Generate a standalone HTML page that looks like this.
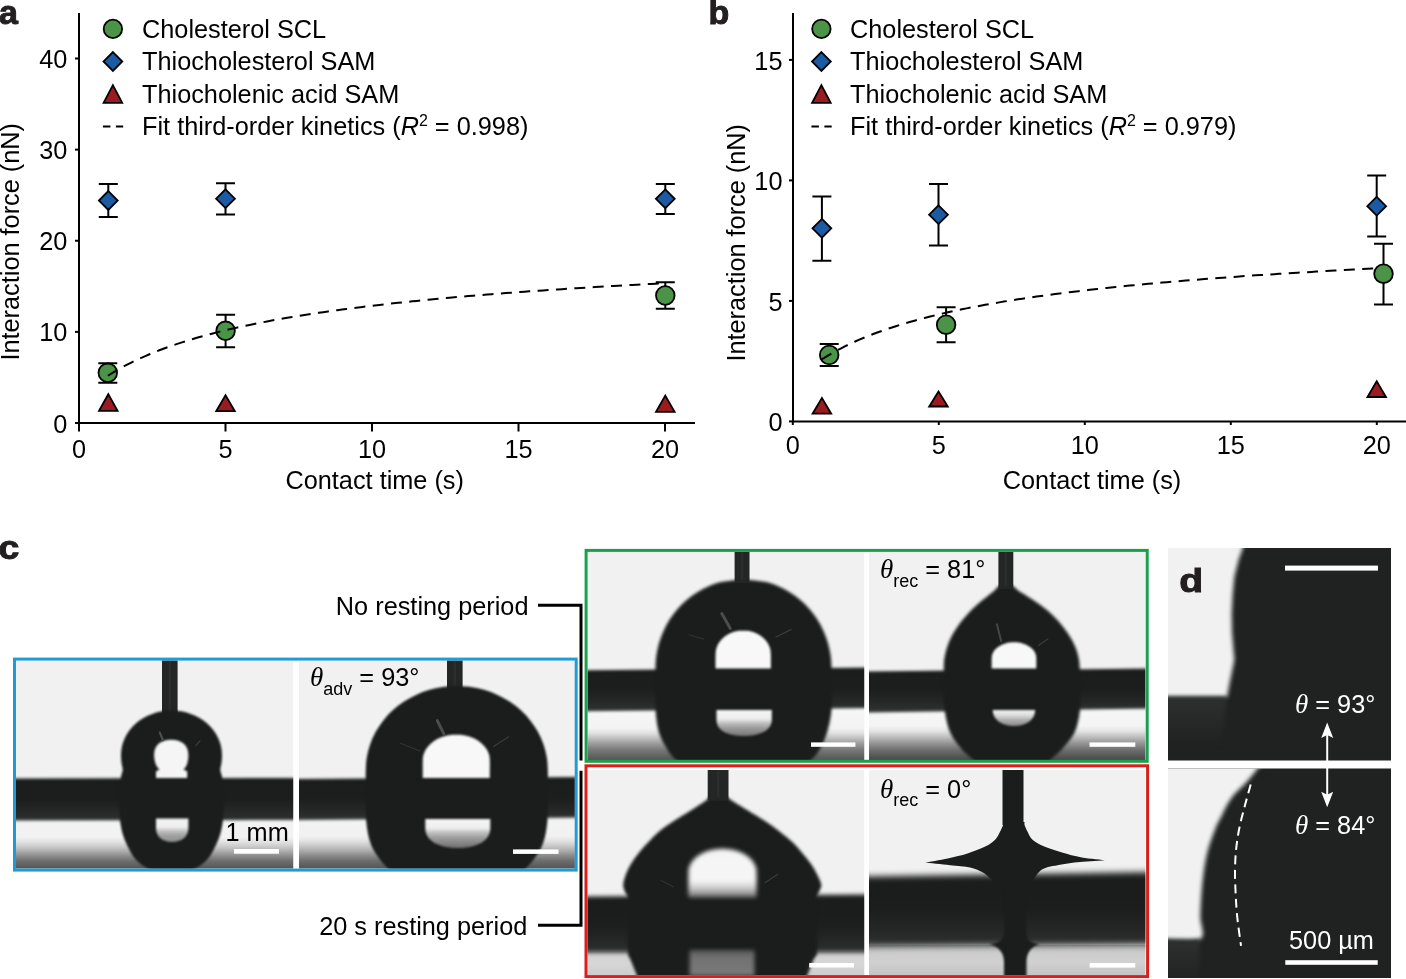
<!DOCTYPE html>
<html><head><meta charset="utf-8"><title>Figure</title>
<style>html,body{margin:0;padding:0;background:#fff;width:1406px;height:979px;overflow:hidden}
svg{display:block;will-change:transform}</style></head><body>
<svg width="1406" height="979" viewBox="0 0 1406 979">

<text x="-1.0" y="24.4" font-size="34" font-weight="bold" fill="#231f20" stroke="#231f20" stroke-width="1" font-family="Liberation Sans, sans-serif">a</text>
<path d="M79,13 V424" stroke="#000" stroke-width="2" fill="none"/>
<path d="M78,423 H695" stroke="#000" stroke-width="2" fill="none"/>
<path d="M75,423.00 H79" stroke="#000" stroke-width="2"/>
<text x="67.4" y="432.60" font-size="25.3" text-anchor="end" font-family="Liberation Sans, sans-serif">0</text>
<path d="M75,331.88 H79" stroke="#000" stroke-width="2"/>
<text x="67.4" y="341.48" font-size="25.3" text-anchor="end" font-family="Liberation Sans, sans-serif">10</text>
<path d="M75,240.75 H79" stroke="#000" stroke-width="2"/>
<text x="67.4" y="250.35" font-size="25.3" text-anchor="end" font-family="Liberation Sans, sans-serif">20</text>
<path d="M75,149.62 H79" stroke="#000" stroke-width="2"/>
<text x="67.4" y="159.22" font-size="25.3" text-anchor="end" font-family="Liberation Sans, sans-serif">30</text>
<path d="M75,58.50 H79" stroke="#000" stroke-width="2"/>
<text x="67.4" y="68.10" font-size="25.3" text-anchor="end" font-family="Liberation Sans, sans-serif">40</text>
<path d="M79.00,423 V431.5" stroke="#000" stroke-width="2"/>
<text x="79.00" y="457.8" font-size="25.3" text-anchor="middle" font-family="Liberation Sans, sans-serif">0</text>
<path d="M225.50,423 V431.5" stroke="#000" stroke-width="2"/>
<text x="225.50" y="457.8" font-size="25.3" text-anchor="middle" font-family="Liberation Sans, sans-serif">5</text>
<path d="M372.00,423 V431.5" stroke="#000" stroke-width="2"/>
<text x="372.00" y="457.8" font-size="25.3" text-anchor="middle" font-family="Liberation Sans, sans-serif">10</text>
<path d="M518.50,423 V431.5" stroke="#000" stroke-width="2"/>
<text x="518.50" y="457.8" font-size="25.3" text-anchor="middle" font-family="Liberation Sans, sans-serif">15</text>
<path d="M665.00,423 V431.5" stroke="#000" stroke-width="2"/>
<text x="665.00" y="457.8" font-size="25.3" text-anchor="middle" font-family="Liberation Sans, sans-serif">20</text>
<text x="374.7" y="488.5" font-size="25.3" text-anchor="middle" font-family="Liberation Sans, sans-serif">Contact time (s)</text>
<text transform="translate(18.5,241.8) rotate(-90)" font-size="25.3" text-anchor="middle" font-family="Liberation Sans, sans-serif">Interaction force (nN)</text>
<path d="M108.30,184.00 V217.00 M98.80,184.00 H117.80 M98.80,217.00 H117.80" stroke="#000" stroke-width="2" fill="none"/>
<path d="M108.30,191.10 L117.70,200.50 L108.30,209.90 L98.90,200.50 Z" fill="#1a5ba3" stroke="#000" stroke-width="1.8" stroke-linejoin="miter"/>
<path d="M225.50,183.30 V214.40 M216.00,183.30 H235.00 M216.00,214.40 H235.00" stroke="#000" stroke-width="2" fill="none"/>
<path d="M225.50,189.30 L234.90,198.70 L225.50,208.10 L216.10,198.70 Z" fill="#1a5ba3" stroke="#000" stroke-width="1.8" stroke-linejoin="miter"/>
<path d="M665.30,184.10 V214.10 M655.80,184.10 H674.80 M655.80,214.10 H674.80" stroke="#000" stroke-width="2" fill="none"/>
<path d="M665.30,189.40 L674.70,198.80 L665.30,208.20 L655.90,198.80 Z" fill="#1a5ba3" stroke="#000" stroke-width="1.8" stroke-linejoin="miter"/>
<path d="M107.80,363.20 V382.70 M98.30,363.20 H117.30 M98.30,382.70 H117.30" stroke="#000" stroke-width="2" fill="none"/>
<circle cx="107.80" cy="372.80" r="9.3" fill="#4b9447" stroke="#000" stroke-width="1.8"/>
<path d="M225.60,314.80 V347.20 M216.10,314.80 H235.10 M216.10,347.20 H235.10" stroke="#000" stroke-width="2" fill="none"/>
<circle cx="225.60" cy="330.80" r="9.3" fill="#4b9447" stroke="#000" stroke-width="1.8"/>
<path d="M665.30,282.20 V308.80 M655.80,282.20 H674.80 M655.80,308.80 H674.80" stroke="#000" stroke-width="2" fill="none"/>
<circle cx="665.30" cy="295.50" r="9.3" fill="#4b9447" stroke="#000" stroke-width="1.8"/>
<path d="M108.30,394.20 L117.60,410.80 L99.00,410.80 Z" fill="#9a1c21" stroke="#000" stroke-width="1.8" stroke-linejoin="miter"/>
<path d="M225.50,395.20 L234.80,411.10 L216.20,411.10 Z" fill="#9a1c21" stroke="#000" stroke-width="1.8" stroke-linejoin="miter"/>
<path d="M665.30,395.60 L674.60,411.90 L656.00,411.90 Z" fill="#9a1c21" stroke="#000" stroke-width="1.8" stroke-linejoin="miter"/>
<path d="M107.86,375.75 L112.54,372.84 L117.22,370.07 L121.91,367.44 L126.59,364.94 L131.27,362.56 L135.95,360.29 L140.63,358.11 L145.32,356.04 L150.00,354.04 L154.68,352.13 L159.36,350.30 L164.04,348.53 L168.72,346.83 L173.41,345.20 L178.09,343.62 L182.77,342.10 L187.45,340.63 L192.13,339.21 L196.82,337.83 L201.50,336.50 L206.18,335.21 L210.86,333.96 L215.54,332.75 L220.22,331.57 L224.91,330.43 L229.59,329.32 L234.27,328.24 L238.95,327.19 L243.63,326.17 L248.32,325.18 L253.00,324.21 L257.68,323.27 L262.36,322.35 L267.04,321.45 L271.73,320.57 L276.41,319.72 L281.09,318.88 L285.77,318.07 L290.45,317.27 L295.13,316.49 L299.82,315.73 L304.50,314.99 L309.18,314.26 L313.86,313.54 L318.54,312.84 L323.23,312.16 L327.91,311.49 L332.59,310.83 L337.27,310.19 L341.95,309.56 L346.63,308.94 L351.32,308.33 L356.00,307.73 L360.68,307.15 L365.36,306.57 L370.04,306.01 L374.73,305.45 L379.41,304.91 L384.09,304.38 L388.77,303.85 L393.45,303.33 L398.13,302.83 L402.82,302.33 L407.50,301.84 L412.18,301.35 L416.86,300.88 L421.54,300.41 L426.23,299.95 L430.91,299.50 L435.59,299.05 L440.27,298.61 L444.95,298.18 L449.64,297.75 L454.32,297.33 L459.00,296.92 L463.68,296.51 L468.36,296.11 L473.04,295.71 L477.73,295.32 L482.41,294.94 L487.09,294.56 L491.77,294.19 L496.45,293.82 L501.14,293.45 L505.82,293.09 L510.50,292.74 L515.18,292.39 L519.86,292.04 L524.54,291.70 L529.23,291.37 L533.91,291.03 L538.59,290.71 L543.27,290.38 L547.95,290.06 L552.64,289.75 L557.32,289.44 L562.00,289.13 L566.68,288.82 L571.36,288.52 L576.04,288.22 L580.73,287.93 L585.41,287.64 L590.09,287.35 L594.77,287.07 L599.45,286.79 L604.14,286.51 L608.82,286.24 L613.50,285.97 L618.18,285.70 L622.86,285.43 L627.55,285.17 L632.23,284.91 L636.91,284.65 L641.59,284.40 L646.27,284.15 L650.95,283.90 L655.64,283.65 L660.32,283.41 L665.00,283.17" stroke="#000" stroke-width="2" fill="none" stroke-dasharray="11,7.4"/>
<circle cx="112.90" cy="28.90" r="9.2" fill="#4b9447" stroke="#000" stroke-width="1.8"/>
<path d="M112.90,52.10 L122.30,61.50 L112.90,70.90 L103.50,61.50 Z" fill="#1a5ba3" stroke="#000" stroke-width="1.8" stroke-linejoin="miter"/>
<path d="M112.90,85.20 L122.20,102.80 L103.60,102.80 Z" fill="#9a1c21" stroke="#000" stroke-width="1.8" stroke-linejoin="miter"/>
<path d="M102.9,126.6 H110.4 M115.9,126.6 H123.2" stroke="#000" stroke-width="2"/>
<text x="142" y="37.80" font-size="25.3" font-family="Liberation Sans, sans-serif">Cholesterol SCL</text>
<text x="142" y="70.25" font-size="25.3" font-family="Liberation Sans, sans-serif">Thiocholesterol SAM</text>
<text x="142" y="102.70" font-size="25.3" font-family="Liberation Sans, sans-serif">Thiocholenic acid SAM</text>
<text x="142" y="135.1" font-size="25.3" font-family="Liberation Sans, sans-serif">Fit third-order kinetics (<tspan font-style="italic">R</tspan><tspan font-size="16" dy="-9">2</tspan><tspan dy="9"> = 0.998)</tspan></text>
<text x="708.6" y="24.1" font-size="34" font-weight="bold" fill="#231f20" stroke="#231f20" stroke-width="1" font-family="Liberation Sans, sans-serif">b</text>
<path d="M793,13 V422.4" stroke="#000" stroke-width="2" fill="none"/>
<path d="M792,421.4 H1406" stroke="#000" stroke-width="2" fill="none"/>
<path d="M789,421.40 H793" stroke="#000" stroke-width="2"/>
<text x="782.5" y="431.00" font-size="25.3" text-anchor="end" font-family="Liberation Sans, sans-serif">0</text>
<path d="M789,300.90 H793" stroke="#000" stroke-width="2"/>
<text x="782.5" y="310.50" font-size="25.3" text-anchor="end" font-family="Liberation Sans, sans-serif">5</text>
<path d="M789,180.40 H793" stroke="#000" stroke-width="2"/>
<text x="782.5" y="190.00" font-size="25.3" text-anchor="end" font-family="Liberation Sans, sans-serif">10</text>
<path d="M789,59.90 H793" stroke="#000" stroke-width="2"/>
<text x="782.5" y="69.50" font-size="25.3" text-anchor="end" font-family="Liberation Sans, sans-serif">15</text>
<path d="M792.80,421.4 V425" stroke="#000" stroke-width="2"/>
<text x="792.80" y="453.8" font-size="25.3" text-anchor="middle" font-family="Liberation Sans, sans-serif">0</text>
<path d="M938.80,421.4 V425" stroke="#000" stroke-width="2"/>
<text x="938.80" y="453.8" font-size="25.3" text-anchor="middle" font-family="Liberation Sans, sans-serif">5</text>
<path d="M1084.80,421.4 V425" stroke="#000" stroke-width="2"/>
<text x="1084.80" y="453.8" font-size="25.3" text-anchor="middle" font-family="Liberation Sans, sans-serif">10</text>
<path d="M1230.80,421.4 V425" stroke="#000" stroke-width="2"/>
<text x="1230.80" y="453.8" font-size="25.3" text-anchor="middle" font-family="Liberation Sans, sans-serif">15</text>
<path d="M1376.80,421.4 V425" stroke="#000" stroke-width="2"/>
<text x="1376.80" y="453.8" font-size="25.3" text-anchor="middle" font-family="Liberation Sans, sans-serif">20</text>
<text x="1092" y="488.5" font-size="25.3" text-anchor="middle" font-family="Liberation Sans, sans-serif">Contact time (s)</text>
<text transform="translate(744.8,242.8) rotate(-90)" font-size="25.3" text-anchor="middle" font-family="Liberation Sans, sans-serif">Interaction force (nN)</text>
<path d="M821.90,196.50 V260.80 M812.40,196.50 H831.40 M812.40,260.80 H831.40" stroke="#000" stroke-width="2" fill="none"/>
<path d="M821.90,218.90 L831.30,228.30 L821.90,237.70 L812.50,228.30 Z" fill="#1a5ba3" stroke="#000" stroke-width="1.8" stroke-linejoin="miter"/>
<path d="M938.50,184.00 V245.50 M929.00,184.00 H948.00 M929.00,245.50 H948.00" stroke="#000" stroke-width="2" fill="none"/>
<path d="M938.50,205.30 L947.90,214.70 L938.50,224.10 L929.10,214.70 Z" fill="#1a5ba3" stroke="#000" stroke-width="1.8" stroke-linejoin="miter"/>
<path d="M1376.70,175.40 V236.60 M1367.20,175.40 H1386.20 M1367.20,236.60 H1386.20" stroke="#000" stroke-width="2" fill="none"/>
<path d="M1376.70,196.80 L1386.10,206.20 L1376.70,215.60 L1367.30,206.20 Z" fill="#1a5ba3" stroke="#000" stroke-width="1.8" stroke-linejoin="miter"/>
<path d="M829.20,343.90 V365.90 M819.70,343.90 H838.70 M819.70,365.90 H838.70" stroke="#000" stroke-width="2" fill="none"/>
<circle cx="829.20" cy="355.00" r="9.3" fill="#4b9447" stroke="#000" stroke-width="1.8"/>
<path d="M946.10,307.20 V342.20 M936.60,307.20 H955.60 M936.60,342.20 H955.60" stroke="#000" stroke-width="2" fill="none"/>
<circle cx="946.10" cy="324.70" r="9.3" fill="#4b9447" stroke="#000" stroke-width="1.8"/>
<path d="M1383.50,243.70 V304.50 M1374.00,243.70 H1393.00 M1374.00,304.50 H1393.00" stroke="#000" stroke-width="2" fill="none"/>
<circle cx="1383.50" cy="273.70" r="9.3" fill="#4b9447" stroke="#000" stroke-width="1.8"/>
<path d="M821.90,397.90 L831.20,413.70 L812.60,413.70 Z" fill="#9a1c21" stroke="#000" stroke-width="1.8" stroke-linejoin="miter"/>
<path d="M938.50,391.50 L947.80,406.50 L929.20,406.50 Z" fill="#9a1c21" stroke="#000" stroke-width="1.8" stroke-linejoin="miter"/>
<path d="M1376.70,381.20 L1386.00,397.00 L1367.40,397.00 Z" fill="#9a1c21" stroke="#000" stroke-width="1.8" stroke-linejoin="miter"/>
<path d="M822.00,359.24 L826.66,356.34 L831.32,353.59 L835.99,350.99 L840.65,348.51 L845.31,346.15 L849.97,343.90 L854.64,341.75 L859.30,339.69 L863.96,337.73 L868.62,335.84 L873.28,334.03 L877.95,332.29 L882.61,330.61 L887.27,329.00 L891.93,327.45 L896.59,325.95 L901.26,324.50 L905.92,323.11 L910.58,321.75 L915.24,320.45 L919.91,319.18 L924.57,317.95 L929.23,316.76 L933.89,315.61 L938.55,314.49 L943.22,313.40 L947.88,312.34 L952.54,311.31 L957.20,310.31 L961.87,309.34 L966.53,308.39 L971.19,307.47 L975.85,306.56 L980.51,305.69 L985.18,304.83 L989.84,303.99 L994.50,303.18 L999.16,302.38 L1003.83,301.60 L1008.49,300.84 L1013.15,300.09 L1017.81,299.36 L1022.47,298.65 L1027.14,297.95 L1031.80,297.27 L1036.46,296.60 L1041.12,295.95 L1045.78,295.30 L1050.45,294.67 L1055.11,294.06 L1059.77,293.45 L1064.43,292.86 L1069.10,292.28 L1073.76,291.71 L1078.42,291.15 L1083.08,290.60 L1087.74,290.06 L1092.41,289.52 L1097.07,289.00 L1101.73,288.49 L1106.39,287.99 L1111.06,287.49 L1115.72,287.00 L1120.38,286.53 L1125.04,286.06 L1129.70,285.59 L1134.37,285.14 L1139.03,284.69 L1143.69,284.25 L1148.35,283.81 L1153.02,283.38 L1157.68,282.96 L1162.34,282.55 L1167.00,282.14 L1171.66,281.74 L1176.33,281.34 L1180.99,280.95 L1185.65,280.56 L1190.31,280.18 L1194.97,279.81 L1199.64,279.44 L1204.30,279.07 L1208.96,278.71 L1213.62,278.36 L1218.29,278.01 L1222.95,277.66 L1227.61,277.32 L1232.27,276.99 L1236.93,276.66 L1241.60,276.33 L1246.26,276.01 L1250.92,275.69 L1255.58,275.37 L1260.25,275.06 L1264.91,274.75 L1269.57,274.45 L1274.23,274.15 L1278.89,273.85 L1283.56,273.56 L1288.22,273.27 L1292.88,272.99 L1297.54,272.70 L1302.21,272.43 L1306.87,272.15 L1311.53,271.88 L1316.19,271.61 L1320.85,271.34 L1325.52,271.08 L1330.18,270.82 L1334.84,270.56 L1339.50,270.30 L1344.16,270.05 L1348.83,269.80 L1353.49,269.55 L1358.15,269.31 L1362.81,269.07 L1367.48,268.83 L1372.14,268.59 L1376.80,268.36" stroke="#000" stroke-width="2" fill="none" stroke-dasharray="11,7.4"/>
<circle cx="821.40" cy="28.90" r="9.2" fill="#4b9447" stroke="#000" stroke-width="1.8"/>
<path d="M821.40,52.10 L830.80,61.50 L821.40,70.90 L812.00,61.50 Z" fill="#1a5ba3" stroke="#000" stroke-width="1.8" stroke-linejoin="miter"/>
<path d="M821.40,85.20 L830.70,102.80 L812.10,102.80 Z" fill="#9a1c21" stroke="#000" stroke-width="1.8" stroke-linejoin="miter"/>
<path d="M811.4,126.6 H818.9 M824.4,126.6 H831.6999999999999" stroke="#000" stroke-width="2"/>
<text x="850" y="37.80" font-size="25.3" font-family="Liberation Sans, sans-serif">Cholesterol SCL</text>
<text x="850" y="70.25" font-size="25.3" font-family="Liberation Sans, sans-serif">Thiocholesterol SAM</text>
<text x="850" y="102.70" font-size="25.3" font-family="Liberation Sans, sans-serif">Thiocholenic acid SAM</text>
<text x="850" y="135.1" font-size="25.3" font-family="Liberation Sans, sans-serif">Fit third-order kinetics (<tspan font-style="italic">R</tspan><tspan font-size="16" dy="-9">2</tspan><tspan dy="9"> = 0.979)</tspan></text>
<defs>
<filter id="b05" color-interpolation-filters="sRGB" x="-20%" y="-20%" width="140%" height="140%"><feGaussianBlur color-interpolation-filters="sRGB" stdDeviation="0.6"/></filter>
<filter id="b1" color-interpolation-filters="sRGB" x="-20%" y="-20%" width="140%" height="140%"><feGaussianBlur color-interpolation-filters="sRGB" stdDeviation="1"/></filter>
<filter id="b15" color-interpolation-filters="sRGB" x="-20%" y="-20%" width="140%" height="140%"><feGaussianBlur color-interpolation-filters="sRGB" stdDeviation="1.5"/></filter>
<filter id="b2" color-interpolation-filters="sRGB" x="-20%" y="-20%" width="140%" height="140%"><feGaussianBlur color-interpolation-filters="sRGB" stdDeviation="2"/></filter>
<filter id="b3" color-interpolation-filters="sRGB" x="-30%" y="-30%" width="160%" height="160%"><feGaussianBlur color-interpolation-filters="sRGB" stdDeviation="3"/></filter>
</defs>
<defs><clipPath id="c1"><rect x="16" y="660.5" width="277.5" height="207.89999999999998"/></clipPath></defs>
<g clip-path="url(#c1)">
<rect x="16" y="660.5" width="277.5" height="207.89999999999998" fill="#f1f1f1"/>
<defs><linearGradient id="g2" gradientUnits="userSpaceOnUse" x1="0" y1="820" x2="0" y2="868.4"><stop offset="0.0000" stop-color="#f3f3f3"/><stop offset="0.3512" stop-color="#f2f2f2"/><stop offset="0.4545" stop-color="#e2e2e2"/><stop offset="0.5579" stop-color="#c8c8c8"/><stop offset="0.6529" stop-color="#aaaaaa"/><stop offset="0.7438" stop-color="#8c8c8c"/><stop offset="0.8471" stop-color="#6e6e6e"/><stop offset="1.0000" stop-color="#555555"/></linearGradient></defs>
<rect x="11" y="820" width="287.5" height="51.39999999999998" fill="url(#g2)"/>
<defs><linearGradient id="g3" gradientUnits="userSpaceOnUse" x1="0" y1="778.25" x2="0" y2="820.25"><stop offset="0.0000" stop-color="#1b1d1c"/><stop offset="0.5000" stop-color="#1c1e1d"/><stop offset="0.8000" stop-color="#252827"/><stop offset="1.0000" stop-color="#2e3130"/></linearGradient></defs>
<path d="M8,778.5 L301.5,778 L301.5,820 L8,820.5 Z" fill="url(#g3)" filter="url(#b15)"/>
<rect x="162" y="655.5" width="15.599999999999994" height="58.5" fill="#232625" filter="url(#b05)"/>
<rect x="168.6" y="655.5" width="2.4" height="55.5" fill="#3a3c3b" opacity="0.35" filter="url(#b05)"/>
<path d="M173.00,710.50 C174.39,710.64 178.38,710.79 181.35,711.36 C184.32,711.92 187.79,712.78 190.83,713.89 C193.86,714.99 196.83,716.39 199.56,718.00 C202.29,719.61 204.89,721.49 207.21,723.53 C209.53,725.58 211.66,727.87 213.49,730.28 C215.31,732.68 216.90,735.30 218.16,737.97 C219.41,740.64 220.39,743.48 221.03,746.32 C221.67,749.16 221.92,752.22 222.00,755.00 C222.08,757.78 221.78,760.50 221.50,763.00 C221.22,765.50 220.22,767.67 220.30,770.00 C220.38,772.33 221.55,773.67 222.00,777.00 C222.45,780.33 222.75,785.33 223.00,790.00 C223.25,794.67 223.50,800.00 223.50,805.00 C223.50,810.00 223.58,815.00 223.00,820.00 C222.42,825.00 221.42,830.33 220.00,835.00 C218.58,839.67 216.42,844.17 214.50,848.00 C212.58,851.83 211.00,855.00 208.50,858.00 C206.00,861.00 203.00,863.67 199.50,866.00 C196.00,868.33 189.50,871.00 187.50,872.00 L155.50,872.00 C153.50,871.00 147.00,868.33 143.50,866.00 C140.00,863.67 137.00,861.00 134.50,858.00 C132.00,855.00 130.42,851.83 128.50,848.00 C126.58,844.17 124.42,839.67 123.00,835.00 C121.58,830.33 120.58,825.00 120.00,820.00 C119.42,815.00 119.50,810.00 119.50,805.00 C119.50,800.00 119.75,794.67 120.00,790.00 C120.25,785.33 120.55,780.33 121.00,777.00 C121.45,773.67 122.62,772.33 122.70,770.00 C122.78,767.67 121.78,765.50 121.50,763.00 C121.22,760.50 120.92,757.78 121.00,755.00 C121.08,752.22 121.33,749.16 121.97,746.32 C122.61,743.48 123.59,740.64 124.84,737.97 C126.10,735.30 127.69,732.68 129.51,730.28 C131.34,727.87 133.47,725.58 135.79,723.53 C138.11,721.49 140.71,719.61 143.44,718.00 C146.17,716.39 149.14,714.99 152.17,713.89 C155.21,712.78 158.68,711.92 161.65,711.36 C164.62,710.79 168.61,710.64 170.00,710.50 Z" fill="#1b1d1c" filter="url(#b1)" />
<path d="M171.3,739.8 C181.5,739.8 188.4,745 188.4,755 C188.4,762 186.5,767 183.5,769.8 L187.2,771.2 L187.2,778 L156,778 L156,771.2 L159.5,769.8 C156.5,767 154.1,762 154.1,755 C154.1,745 161,739.8 171.3,739.8 Z" fill="#f5f5f5" filter="url(#b1)" />
<defs><linearGradient id="g4" gradientUnits="userSpaceOnUse" x1="0" y1="818.5" x2="0" y2="842"><stop offset="0.0000" stop-color="#f4f4f4"/><stop offset="0.3800" stop-color="#eeeeee"/><stop offset="0.5000" stop-color="#c8c8c8"/><stop offset="0.7000" stop-color="#a4a4a4"/><stop offset="1.0000" stop-color="#8c8c8c"/></linearGradient></defs>
<path d="M156,818.5 L188.4,818.5 L188.4,828 C188.4,837 181,842 172,842 C163,842 156,837 156,828 Z" fill="url(#g4)" filter="url(#b1)" />
<rect x="234" y="849" width="45" height="4.7000000000000455" fill="#fff"/>
<text x="225.5" y="841" font-size="25.3" font-family="Liberation Sans, sans-serif">1 mm</text>
</g>
<defs><clipPath id="c5"><rect x="299" y="660.5" width="275.9" height="207.89999999999998"/></clipPath></defs>
<g clip-path="url(#c5)">
<rect x="299" y="660.5" width="275.9" height="207.89999999999998" fill="#f1f1f1"/>
<defs><linearGradient id="g6" gradientUnits="userSpaceOnUse" x1="0" y1="819" x2="0" y2="868.4"><stop offset="0.0000" stop-color="#f3f3f3"/><stop offset="0.3441" stop-color="#f1f1f1"/><stop offset="0.4453" stop-color="#e2e2e2"/><stop offset="0.5466" stop-color="#c8c8c8"/><stop offset="0.6478" stop-color="#aaaaaa"/><stop offset="0.7389" stop-color="#8c8c8c"/><stop offset="0.8502" stop-color="#6c6c6c"/><stop offset="1.0000" stop-color="#555555"/></linearGradient></defs>
<rect x="294" y="819" width="285.9" height="52.39999999999998" fill="url(#g6)"/>
<defs><linearGradient id="g7" gradientUnits="userSpaceOnUse" x1="0" y1="778.0" x2="0" y2="818.75"><stop offset="0.0000" stop-color="#1b1d1c"/><stop offset="0.5000" stop-color="#1c1e1d"/><stop offset="0.8000" stop-color="#252827"/><stop offset="1.0000" stop-color="#2e3130"/></linearGradient></defs>
<path d="M291,779 L582.9,777 L582.9,817.5 L291,820 Z" fill="url(#g7)" filter="url(#b15)"/>
<rect x="447" y="655.5" width="15.600000000000023" height="34.5" fill="#232625" filter="url(#b05)"/>
<rect x="453.6" y="655.5" width="2.4" height="31.5" fill="#3a3c3b" opacity="0.35" filter="url(#b05)"/>
<path d="M456.80,686.00 C459.17,686.17 466.35,686.35 471.04,687.03 C475.72,687.72 480.41,688.76 484.92,690.11 C489.43,691.46 493.89,693.17 498.11,695.16 C502.34,697.14 506.45,699.47 510.29,702.04 C514.13,704.62 517.79,707.51 521.15,710.60 C524.50,713.70 527.63,717.08 530.42,720.63 C533.21,724.17 535.73,727.96 537.88,731.86 C540.04,735.77 541.88,739.88 543.35,744.04 C544.81,748.21 545.94,752.53 546.68,756.86 C547.42,761.19 547.61,763.64 547.80,770.00 C547.99,776.36 547.88,786.33 547.80,795.00 C547.72,803.67 548.13,813.83 547.30,822.00 C546.47,830.17 545.27,837.50 542.80,844.00 C540.33,850.50 536.50,855.83 532.50,861.00 C528.50,866.17 521.08,872.67 518.80,875.00 L394.80,875.00 C392.52,872.67 385.10,866.17 381.10,861.00 C377.10,855.83 373.27,850.50 370.80,844.00 C368.33,837.50 367.13,830.17 366.30,822.00 C365.47,813.83 365.88,803.67 365.80,795.00 C365.72,786.33 365.61,776.36 365.80,770.00 C365.99,763.64 366.18,761.19 366.92,756.86 C367.66,752.53 368.79,748.21 370.25,744.04 C371.72,739.88 373.56,735.77 375.72,731.86 C377.87,727.96 380.39,724.17 383.18,720.63 C385.97,717.08 389.10,713.70 392.45,710.60 C395.81,707.51 399.47,704.62 403.31,702.04 C407.15,699.47 411.26,697.14 415.49,695.16 C419.71,693.17 424.17,691.46 428.68,690.11 C433.19,688.76 437.88,687.72 442.56,687.03 C447.25,686.35 454.43,686.17 456.80,686.00 Z" fill="#1b1d1c" filter="url(#b1)" />
<path d="M460.49,734.70 C461.79,734.95 465.81,735.46 468.30,736.19 C470.78,736.92 473.22,737.90 475.41,739.06 C477.60,740.21 479.66,741.61 481.42,743.13 C483.19,744.65 484.75,746.39 485.99,748.18 C487.22,749.98 488.20,751.95 488.83,753.92 C489.47,755.89 489.64,755.99 489.80,760.00 C489.96,764.01 489.80,775.00 489.80,778.00 L422.80,778.00 C422.80,775.00 422.64,764.01 422.80,760.00 C422.96,755.99 423.13,755.89 423.77,753.92 C424.40,751.95 425.38,749.98 426.61,748.18 C427.85,746.39 429.41,744.65 431.18,743.13 C432.94,741.61 435.00,740.21 437.19,739.06 C439.38,737.90 441.82,736.92 444.30,736.19 C446.79,735.46 450.81,734.95 452.11,734.70 Z" fill="#f8f8f8" filter="url(#b1)"/>
<defs><linearGradient id="g8" gradientUnits="userSpaceOnUse" x1="0" y1="819" x2="0" y2="848"><stop offset="0.0000" stop-color="#f6f6f6"/><stop offset="0.3200" stop-color="#eeeeee"/><stop offset="0.4500" stop-color="#c4c4c4"/><stop offset="0.6500" stop-color="#9c9c9c"/><stop offset="1.0000" stop-color="#707070"/></linearGradient></defs>
<path d="M425.3,819 L490.3,819 L490.3,828 C490.3,841 476.8,848 457.8,848 C438.8,848 425.3,841 425.3,828 Z" fill="url(#g8)" filter="url(#b1)" />
<rect x="513" y="849.4" width="45.5" height="4.5" fill="#fff"/>
<text x="310" y="686.0999999999999" fill="#000" font-size="25.3"><tspan font-family="Liberation Serif, serif" font-style="italic" font-size="27">&#952;</tspan><tspan font-family="Liberation Sans, sans-serif" font-size="18" dy="8.4">adv</tspan><tspan font-family="Liberation Sans, sans-serif" dy="-8.4"> = 93°</tspan></text>
</g>
<rect x="293.5" y="660.5" width="5.5" height="207.89999999999998" fill="#fff"/>
<rect x="14.5" y="659.1" width="561.7" height="211" fill="none" stroke="#1f9cd6" stroke-width="3"/>
<defs><clipPath id="c9"><rect x="587.6" y="552" width="276.9" height="207.89999999999998"/></clipPath></defs>
<g clip-path="url(#c9)">
<rect x="587.6" y="552" width="276.9" height="207.89999999999998" fill="#f1f1f1"/>
<defs><linearGradient id="g10" gradientUnits="userSpaceOnUse" x1="0" y1="710" x2="0" y2="759.9"><stop offset="0.0000" stop-color="#f6f6f6"/><stop offset="0.3607" stop-color="#f3f3f3"/><stop offset="0.4609" stop-color="#e1e1e1"/><stop offset="0.5411" stop-color="#c8c8c8"/><stop offset="0.6613" stop-color="#a0a0a0"/><stop offset="0.8016" stop-color="#787878"/><stop offset="1.0000" stop-color="#555555"/></linearGradient></defs>
<rect x="582.6" y="710" width="286.9" height="52.89999999999998" fill="url(#g10)"/>
<defs><linearGradient id="g11" gradientUnits="userSpaceOnUse" x1="0" y1="668.95" x2="0" y2="709.65"><stop offset="0.0000" stop-color="#1b1d1c"/><stop offset="0.5000" stop-color="#1c1e1d"/><stop offset="0.8000" stop-color="#252827"/><stop offset="1.0000" stop-color="#2e3130"/></linearGradient></defs>
<path d="M579.6,670.3 L872.5,667.6 L872.5,708 L579.6,711.3 Z" fill="url(#g11)" filter="url(#b15)"/>
<path d="M745.50,579.40 C748.96,579.84 760.79,580.88 766.26,582.03 C771.74,583.17 774.44,584.57 778.34,586.27 C782.25,587.98 786.07,589.99 789.69,592.24 C793.31,594.50 796.80,597.05 800.06,599.82 C803.32,602.58 806.41,605.62 809.23,608.83 C812.06,612.04 814.68,615.50 817.02,619.09 C819.36,622.68 821.46,626.49 823.25,630.38 C825.05,634.28 826.58,638.35 827.80,642.47 C829.02,646.59 829.95,650.84 830.57,655.10 C831.19,659.35 831.35,662.18 831.50,668.00 C831.65,673.82 831.53,682.67 831.50,690.00 C831.47,697.33 832.05,704.88 831.30,712.00 C830.55,719.12 828.97,726.42 827.00,732.70 C825.03,738.98 822.00,745.28 819.50,749.70 C817.00,754.12 814.67,756.48 812.00,759.20 C809.33,761.92 804.92,764.87 803.50,766.00 L683.50,766.00 C682.08,764.87 677.67,761.92 675.00,759.20 C672.33,756.48 670.17,754.12 667.50,749.70 C664.83,745.28 660.97,738.98 659.00,732.70 C657.03,726.42 656.28,719.12 655.70,712.00 C655.12,704.88 655.53,697.33 655.50,690.00 C655.47,682.67 655.35,673.82 655.50,668.00 C655.65,662.18 655.81,659.35 656.43,655.10 C657.05,650.84 657.98,646.59 659.20,642.47 C660.42,638.35 661.95,634.28 663.75,630.38 C665.54,626.49 667.64,622.68 669.98,619.09 C672.32,615.50 674.94,612.04 677.77,608.83 C680.59,605.62 683.68,602.58 686.94,599.82 C690.20,597.05 693.69,594.50 697.31,592.24 C700.93,589.99 704.75,587.98 708.66,586.27 C712.56,584.57 715.26,583.17 720.74,582.03 C726.21,580.88 738.04,579.84 741.50,579.40 Z" fill="#1b1d1c" filter="url(#b15)" />
<rect x="734.6" y="547" width="14.899999999999977" height="36" fill="#232625" filter="url(#b05)"/>
<rect x="740.8" y="547" width="2.4" height="33" fill="#3a3c3b" opacity="0.35" filter="url(#b05)"/>
<path d="M747.60,630.80 C748.63,631.05 751.84,631.61 753.82,632.31 C755.80,633.01 757.73,633.94 759.47,635.01 C761.20,636.09 762.82,637.37 764.21,638.76 C765.60,640.15 766.83,641.72 767.80,643.35 C768.78,644.98 769.54,646.75 770.04,648.52 C770.54,650.30 770.66,650.67 770.80,654.00 C770.94,657.33 770.88,666.08 770.90,668.50 L715.50,668.50 C715.52,666.08 715.46,657.33 715.60,654.00 C715.74,650.67 715.86,650.30 716.36,648.52 C716.86,646.75 717.62,644.98 718.60,643.35 C719.57,641.72 720.80,640.15 722.19,638.76 C723.58,637.37 725.20,636.09 726.93,635.01 C728.67,633.94 730.60,633.01 732.58,632.31 C734.56,631.61 737.77,631.05 738.80,630.80 Z" fill="#f8f8f8" filter="url(#b1)"/>
<defs><linearGradient id="g12" gradientUnits="userSpaceOnUse" x1="0" y1="710" x2="0" y2="736"><stop offset="0.0000" stop-color="#f6f6f6"/><stop offset="0.3500" stop-color="#ececec"/><stop offset="0.5000" stop-color="#c0c0c0"/><stop offset="0.7000" stop-color="#9a9a9a"/><stop offset="1.0000" stop-color="#747474"/></linearGradient></defs>
<path d="M716.5,710 L771.8,710 L771.8,720 C771.8,731 758.5,736 743.5,736 C728.5,736 716.5,731 716.5,720 Z" fill="url(#g12)" filter="url(#b1)" />
<rect x="811" y="742.4" width="44.39999999999998" height="4.399999999999977" fill="#fff"/>
</g>
<defs><clipPath id="c13"><rect x="869" y="552" width="276.4000000000001" height="207.89999999999998"/></clipPath></defs>
<g clip-path="url(#c13)">
<rect x="869" y="552" width="276.4000000000001" height="207.89999999999998" fill="#f1f1f1"/>
<defs><linearGradient id="g14" gradientUnits="userSpaceOnUse" x1="0" y1="709" x2="0" y2="759.9"><stop offset="0.0000" stop-color="#f6f6f6"/><stop offset="0.3340" stop-color="#f4f4f4"/><stop offset="0.4322" stop-color="#e4e4e4"/><stop offset="0.5501" stop-color="#bebebe"/><stop offset="0.6680" stop-color="#969696"/><stop offset="0.8055" stop-color="#6e6e6e"/><stop offset="1.0000" stop-color="#484848"/></linearGradient></defs>
<rect x="864" y="709" width="286.4000000000001" height="53.89999999999998" fill="url(#g14)"/>
<defs><linearGradient id="g15" gradientUnits="userSpaceOnUse" x1="0" y1="670.0" x2="0" y2="710.5"><stop offset="0.0000" stop-color="#1b1d1c"/><stop offset="0.5000" stop-color="#1c1e1d"/><stop offset="0.8000" stop-color="#252827"/><stop offset="1.0000" stop-color="#2e3130"/></linearGradient></defs>
<path d="M861,671.6 L1153.4,668.4 L1153.4,708.5 L861,712.5 Z" fill="url(#g15)" filter="url(#b15)"/>
<path d="M1013.30,586.00 C1014.28,586.88 1017.32,589.88 1019.20,591.30 C1021.08,592.72 1021.05,592.20 1024.60,594.50 C1028.15,596.80 1035.73,601.57 1040.50,605.10 C1045.27,608.63 1049.48,612.15 1053.20,615.70 C1056.92,619.25 1059.97,622.85 1062.80,626.40 C1065.63,629.95 1068.07,633.47 1070.20,637.00 C1072.33,640.53 1074.18,644.07 1075.60,647.60 C1077.02,651.13 1078.00,654.65 1078.70,658.20 C1079.40,661.75 1079.58,663.60 1079.80,668.90 C1080.02,674.20 1080.00,682.92 1080.00,690.00 C1080.00,697.08 1080.72,704.30 1079.80,711.40 C1078.88,718.50 1077.52,726.23 1074.50,732.60 C1071.48,738.97 1065.60,745.17 1061.70,749.60 C1057.80,754.03 1054.38,756.30 1051.10,759.20 C1047.82,762.10 1043.52,765.70 1042.00,767.00 L982.00,767.00 C980.42,765.70 975.85,762.10 972.50,759.20 C969.15,756.30 965.62,754.03 961.90,749.60 C958.18,745.17 953.03,738.97 950.20,732.60 C947.37,726.23 945.93,718.50 944.90,711.40 C943.87,704.30 944.18,697.08 944.00,690.00 C943.82,682.92 943.73,674.20 943.80,668.90 C943.87,663.60 943.87,661.75 944.40,658.20 C944.93,654.65 945.87,651.13 947.00,647.60 C948.13,644.07 949.43,640.53 951.20,637.00 C952.97,633.47 955.12,629.95 957.60,626.40 C960.08,622.85 962.92,619.25 966.10,615.70 C969.28,612.15 972.80,608.63 976.70,605.10 C980.60,601.57 986.67,596.80 989.50,594.50 C992.33,592.20 992.22,592.72 993.70,591.30 C995.18,589.88 997.62,586.88 998.40,586.00 Z" fill="#1b1d1c" filter="url(#b15)" />
<rect x="998.4" y="547" width="14.899999999999977" height="42" fill="#232625" filter="url(#b05)"/>
<rect x="1004.6" y="547" width="2.4" height="39" fill="#3a3c3b" opacity="0.35" filter="url(#b05)"/>
<path d="M1016.50,642.30 C1017.38,642.45 1020.09,642.75 1021.76,643.19 C1023.44,643.63 1025.09,644.23 1026.57,644.95 C1028.04,645.66 1029.44,646.53 1030.63,647.47 C1031.82,648.42 1032.88,649.50 1033.72,650.62 C1034.55,651.74 1035.21,652.97 1035.64,654.20 C1036.08,655.43 1036.19,655.62 1036.30,658.00 C1036.41,660.38 1036.30,666.75 1036.30,668.50 L991.70,668.50 C991.70,666.75 991.59,660.38 991.70,658.00 C991.81,655.62 991.92,655.43 992.36,654.20 C992.79,652.97 993.45,651.74 994.28,650.62 C995.12,649.50 996.18,648.42 997.37,647.47 C998.56,646.53 999.96,645.66 1001.43,644.95 C1002.91,644.23 1004.56,643.63 1006.24,643.19 C1007.91,642.75 1010.62,642.45 1011.50,642.30 Z" fill="#f8f8f8" filter="url(#b1)"/>
<defs><linearGradient id="g16" gradientUnits="userSpaceOnUse" x1="0" y1="710" x2="0" y2="726"><stop offset="0.0000" stop-color="#f2f2f2"/><stop offset="0.3500" stop-color="#dadada"/><stop offset="0.6000" stop-color="#b0b0b0"/><stop offset="1.0000" stop-color="#8a8a8a"/></linearGradient></defs>
<path d="M992.7,710 L1035.2,710 C1035.2,719 1027,726 1014,726 C1001,726 992.7,719 992.7,710 Z" fill="url(#g16)" filter="url(#b1)" />
<rect x="1089.5" y="742.4" width="45.799999999999955" height="4.399999999999977" fill="#fff"/>
<text x="880" y="578.4" fill="#000" font-size="25.3"><tspan font-family="Liberation Serif, serif" font-style="italic" font-size="27">&#952;</tspan><tspan font-family="Liberation Sans, sans-serif" font-size="18" dy="8.4">rec</tspan><tspan font-family="Liberation Sans, sans-serif" dy="-8.4"> = 81°</tspan></text>
</g>
<rect x="864.5" y="552" width="4.5" height="207.89999999999998" fill="#fff"/>
<rect x="586.1" y="550.4" width="561.1" height="210.9" fill="none" stroke="#18a04c" stroke-width="3"/>
<defs><clipPath id="c17"><rect x="587.5" y="770" width="277.0" height="204.89999999999998"/></clipPath></defs>
<g clip-path="url(#c17)">
<rect x="587.5" y="770" width="277.0" height="204.89999999999998" fill="#f1f1f1"/>
<defs><linearGradient id="g18" gradientUnits="userSpaceOnUse" x1="0" y1="951" x2="0" y2="974.9"><stop offset="0.0000" stop-color="#c8c8c8"/><stop offset="0.2510" stop-color="#d4d4d4"/><stop offset="0.5439" stop-color="#d6d6d6"/><stop offset="1.0000" stop-color="#cdcdcd"/></linearGradient></defs>
<rect x="582.5" y="951" width="287.0" height="26.899999999999977" fill="url(#g18)"/>
<defs><linearGradient id="g19" gradientUnits="userSpaceOnUse" x1="0" y1="895.5" x2="0" y2="952.5"><stop offset="0.0000" stop-color="#1b1d1c"/><stop offset="0.5000" stop-color="#1c1e1d"/><stop offset="0.8000" stop-color="#252827"/><stop offset="1.0000" stop-color="#2e3130"/></linearGradient></defs>
<path d="M579.5,896.5 L872.5,894.5 L872.5,952.5 L579.5,952.5 Z" fill="url(#g19)" filter="url(#b2)"/>
<path d="M728.50,797.50 C728.92,797.90 727.75,797.73 731.00,799.90 C734.25,802.07 742.33,806.97 748.00,810.50 C753.67,814.03 759.68,817.57 765.00,821.10 C770.32,824.63 775.30,828.17 779.90,831.70 C784.50,835.23 788.88,838.77 792.60,842.30 C796.32,845.83 799.18,849.35 802.20,852.90 C805.22,856.45 808.23,860.05 810.70,863.60 C813.17,867.15 815.23,870.67 817.00,874.20 C818.77,877.73 820.97,881.83 821.30,884.80 C821.63,887.77 819.80,889.47 819.00,892.00 C818.20,894.53 816.83,893.67 816.50,900.00 C816.17,906.33 816.92,921.22 817.00,930.00 C817.08,938.78 817.52,947.87 817.00,952.70 C816.48,957.53 815.30,955.80 813.90,959.00 C812.50,962.20 810.08,968.07 808.60,971.90 C807.12,975.73 805.60,980.32 805.00,982.00 L639.00,982.00 C638.42,980.32 636.97,975.73 635.50,971.90 C634.03,968.07 631.45,962.20 630.20,959.00 C628.95,955.80 628.37,957.53 628.00,952.70 C627.63,947.87 628.00,938.78 628.00,930.00 C628.00,921.22 628.50,906.33 628.00,900.00 C627.50,893.67 625.80,894.53 625.00,892.00 C624.20,889.47 623.05,887.77 623.20,884.80 C623.35,881.83 624.57,877.73 625.90,874.20 C627.23,870.67 629.07,867.15 631.20,863.60 C633.33,860.05 635.87,856.45 638.70,852.90 C641.53,849.35 644.85,845.83 648.20,842.30 C651.55,838.77 654.55,835.23 658.80,831.70 C663.05,828.17 668.38,824.63 673.70,821.10 C679.02,817.57 685.22,814.03 690.70,810.50 C696.18,806.97 703.77,802.07 706.60,799.90 C709.43,797.73 707.52,797.90 707.70,797.50 Z" fill="#1b1d1c" filter="url(#b15)" />
<rect x="707.7" y="765" width="20.799999999999955" height="35" fill="#232625" filter="url(#b05)"/>
<rect x="716.9" y="765" width="2.4" height="32" fill="#3a3c3b" opacity="0.35" filter="url(#b05)"/>
<defs><linearGradient id="g20" gradientUnits="userSpaceOnUse" x1="0" y1="848.7" x2="0" y2="897.5"><stop offset="0.0000" stop-color="#f4f4f4"/><stop offset="0.6500" stop-color="#f6f6f6"/><stop offset="0.8200" stop-color="#c8c8c8"/><stop offset="1.0000" stop-color="#6a6a6a"/></linearGradient></defs>
<path d="M722.50,848.70 C723.97,848.83 728.47,848.97 731.30,849.49 C734.13,850.01 736.96,850.82 739.50,851.82 C742.04,852.83 744.47,854.10 746.54,855.52 C748.62,856.95 750.48,858.61 751.94,860.35 C753.41,862.09 754.58,864.03 755.34,865.97 C756.10,867.91 756.31,866.74 756.50,872.00 C756.69,877.26 756.50,893.25 756.50,897.50 L688.50,897.50 C688.50,893.25 688.31,877.26 688.50,872.00 C688.69,866.74 688.90,867.91 689.66,865.97 C690.42,864.03 691.59,862.09 693.06,860.35 C694.52,858.61 696.38,856.95 698.46,855.52 C700.53,854.10 702.96,852.83 705.50,851.82 C708.04,850.82 710.87,850.01 713.70,849.49 C716.53,848.97 721.03,848.83 722.50,848.70 Z" fill="url(#g20)" filter="url(#b2)"/>
<defs><linearGradient id="g21" gradientUnits="userSpaceOnUse" x1="0" y1="950" x2="0" y2="975"><stop offset="0.0000" stop-color="#555555"/><stop offset="0.3000" stop-color="#727272"/><stop offset="1.0000" stop-color="#7a7a7a"/></linearGradient></defs>
<path d="M689.6,950 L754.4,950 L754.4,976 L689.6,976 Z" fill="url(#g21)" filter="url(#b2)" />
<rect x="809.2" y="963" width="44.799999999999955" height="4.5" fill="#fff"/>
</g>
<defs><clipPath id="c22"><rect x="869" y="770" width="276.5" height="204.89999999999998"/></clipPath></defs>
<g clip-path="url(#c22)">
<rect x="869" y="770" width="276.5" height="204.89999999999998" fill="#f1f1f1"/>
<defs><linearGradient id="g23" gradientUnits="userSpaceOnUse" x1="0" y1="945" x2="0" y2="974.9"><stop offset="0.0000" stop-color="#bebebe"/><stop offset="0.2676" stop-color="#cccccc"/><stop offset="0.5686" stop-color="#d0d0d0"/><stop offset="1.0000" stop-color="#c4c4c4"/></linearGradient></defs>
<rect x="864" y="945" width="286.5" height="32.89999999999998" fill="url(#g23)"/>
<defs><linearGradient id="g24" gradientUnits="userSpaceOnUse" x1="0" y1="874.25" x2="0" y2="945.5"><stop offset="0.0000" stop-color="#1b1d1c"/><stop offset="0.5000" stop-color="#1c1e1d"/><stop offset="0.8000" stop-color="#252827"/><stop offset="1.0000" stop-color="#2e3130"/></linearGradient></defs>
<path d="M861,876.5 L1153.5,872 L1153.5,944.5 L861,946.5 Z" fill="url(#g24)" filter="url(#b3)"/>
<path d="M1003.00,822.00 C1003.00,822.50 1003.50,823.37 1003.00,825.00 C1002.50,826.63 1001.32,829.35 1000.00,831.80 C998.68,834.25 997.57,837.23 995.10,839.70 C992.63,842.17 989.80,844.30 985.20,846.60 C980.60,848.90 973.73,851.53 967.50,853.50 C961.27,855.47 954.97,856.88 947.80,858.40 C940.63,859.92 928.38,861.90 924.50,862.60 L924.50,862.60 C928.75,863.03 942.42,864.38 950.00,865.20 C957.58,866.02 964.67,866.37 970.00,867.50 C975.33,868.63 978.48,870.07 982.00,872.00 C985.52,873.93 988.77,876.93 991.10,879.10 C993.43,881.27 995.18,884.02 996.00,885.00 L1031.00,885.00 C1031.50,884.02 1032.10,881.72 1034.00,879.10 C1035.90,876.48 1038.07,871.68 1042.40,869.30 C1046.73,866.92 1053.73,866.02 1060.00,864.80 C1066.27,863.58 1072.17,862.75 1080.00,862.00 C1087.83,861.25 1102.50,860.58 1107.00,860.30 L1107.00,860.30 C1102.80,859.82 1089.30,858.70 1081.80,857.40 C1074.30,856.10 1068.25,854.30 1062.00,852.50 C1055.75,850.70 1049.22,848.73 1044.30,846.60 C1039.38,844.47 1035.28,842.17 1032.50,839.70 C1029.72,837.23 1028.92,834.25 1027.60,831.80 C1026.28,829.35 1025.10,826.63 1024.60,825.00 C1024.10,823.37 1024.60,822.50 1024.60,822.00 Z" fill="#1b1d1c" filter="url(#b05)" />
<rect x="1002.5" y="765" width="21" height="60" fill="#1b1d1c" filter="url(#b05)"/>
<path d="M1004.5,884 L1026,884 L1026,932 C1026.5,940 1031,943 1040,944 C1032,946 1026.5,952 1026.5,962 L1026.5,978 L1004,978 L1004,962 C1004,952 998,946 989,944 C998,943 1004,940 1004.5,932 Z" fill="#1b1d1c" filter="url(#b1)"/>
<rect x="1089.7" y="963" width="45.5" height="4.600000000000023" fill="#fff"/>
<text x="880" y="797.5999999999999" fill="#000" font-size="25.3"><tspan font-family="Liberation Serif, serif" font-style="italic" font-size="27">&#952;</tspan><tspan font-family="Liberation Sans, sans-serif" font-size="18" dy="8.4">rec</tspan><tspan font-family="Liberation Sans, sans-serif" dy="-8.4"> = 0°</tspan></text>
</g>
<rect x="864.5" y="767" width="4.5" height="207.89999999999998" fill="#fff"/>
<rect x="586" y="765.8" width="561.6" height="210.8" fill="none" stroke="#da1e1c" stroke-width="3"/>
<g filter="url(#b05)" stroke-linecap="round"><line x1="159.8" y1="732.6" x2="163" y2="740.2" stroke="#4c4f4e" stroke-width="2.2"/><line x1="200" y1="741" x2="195.6" y2="745.6" stroke="#3a3d3c" stroke-width="1.2"/><line x1="437.3" y1="720.6" x2="443.7" y2="733.6" stroke="#4a4d4c" stroke-width="3"/><line x1="508.7" y1="736.8" x2="493.5" y2="746.6" stroke="#3a3d3c" stroke-width="1.2"/><line x1="400.5" y1="743.3" x2="420" y2="751" stroke="#333635" stroke-width="1"/><line x1="721.8" y1="613.6" x2="730.3" y2="628.5" stroke="#4a4d4c" stroke-width="3"/><line x1="790.9" y1="629.6" x2="776" y2="637" stroke="#3a3d3c" stroke-width="1.2"/><line x1="688.9" y1="634.9" x2="703.8" y2="639.1" stroke="#333635" stroke-width="1"/><line x1="996.9" y1="624.2" x2="1001.2" y2="641.2" stroke="#444746" stroke-width="2"/><line x1="1047.9" y1="639.1" x2="1038.4" y2="645.5" stroke="#3a3d3c" stroke-width="1.2"/><line x1="777.8" y1="874.2" x2="765" y2="882.7" stroke="#3a3d3c" stroke-width="1.2"/><line x1="661" y1="880.5" x2="673.7" y2="886.9" stroke="#333635" stroke-width="1"/></g>
<path d="M538,605.2 H581 V760.5 M581,770.7 V925.3 H538" fill="none" stroke="#000" stroke-width="3"/>
<text x="528.5" y="615.1" font-size="25.3" text-anchor="end" font-family="Liberation Sans, sans-serif">No resting period</text>
<text x="527.3" y="935.1" font-size="25.3" text-anchor="end" font-family="Liberation Sans, sans-serif">20 s resting period</text>
<text transform="translate(-1.5,558.5) scale(1.1,1)" font-size="34" font-weight="bold" fill="#231f20" stroke="#231f20" stroke-width="1" font-family="Liberation Sans, sans-serif">c</text>
<defs><clipPath id="c25"><rect x="1168" y="548" width="223" height="212.5"/></clipPath></defs>
<g clip-path="url(#c25)">
<rect x="1168" y="548" width="223" height="212.5" fill="#f1f1f1"/>
<rect x="1160" y="540" width="240" height="230" fill="#1f2221"/>
<path d="M1160,540 L1243.5,540 L1242.7,548.8 L1239,558.4 L1234.4,576.8 L1232.6,595.1 L1231.7,613.5 L1232,631.9 L1233.5,650.3 L1234.4,659.4 L1232.6,668.6 L1230.7,677.8 L1228.9,687 L1227,697.2 L1160,697.2 Z" fill="#f1f1f1" filter="url(#b2)"/>
<defs><linearGradient id="g26" gradientUnits="userSpaceOnUse" x1="0" y1="697" x2="0" y2="745"><stop offset="0.0000" stop-color="#2e3130"/><stop offset="0.5000" stop-color="#262928"/><stop offset="1.0000" stop-color="#1f2221"/></linearGradient></defs>
<path d="M1160,697 L1227,697 L1222,745 L1160,745 Z" fill="url(#g26)" filter="url(#b2)"/>
<rect x="1285" y="565.6" width="93" height="5.0" fill="#fff"/>
<text x="1295" y="713.4" fill="#fff" font-size="25.3" font-family="Liberation Sans, sans-serif"><tspan font-family="Liberation Serif, serif" font-style="italic" font-size="27">&#952;</tspan> = 93°</text>
</g>
<text transform="translate(1179.2,591.6) scale(1.15,1)" font-size="34" font-weight="bold" fill="#231f20" stroke="#231f20" stroke-width="1" font-family="Liberation Sans, sans-serif">d</text>
<defs><clipPath id="c27"><rect x="1168" y="768.5" width="223" height="209.5"/></clipPath></defs>
<g clip-path="url(#c27)">
<rect x="1168" y="768.5" width="223" height="209.5" fill="#f1f1f1"/>
<rect x="1160" y="760" width="240" height="230" fill="#1f2221"/>
<path d="M1160.00,760.00 C1176.67,760.00 1243.77,758.58 1260.00,760.00 C1276.23,761.42 1259.70,764.77 1257.40,768.50 C1255.10,772.23 1249.93,778.22 1246.20,782.40 C1242.47,786.58 1238.17,789.87 1235.00,793.60 C1231.83,797.33 1229.43,801.07 1227.20,804.80 C1224.97,808.53 1223.47,812.27 1221.60,816.00 C1219.73,819.73 1218.25,821.62 1216.00,827.20 C1213.75,832.78 1210.15,842.05 1208.10,849.50 C1206.05,856.95 1204.82,864.43 1203.70,871.90 C1202.58,879.37 1201.97,886.83 1201.40,894.30 C1200.83,901.77 1200.57,909.20 1200.30,916.70 C1200.03,924.20 1206.52,935.53 1199.80,939.30 C1193.08,943.07 1166.63,939.30 1160.00,939.30 Z" fill="#f1f1f1" filter="url(#b2)"/>
<defs><linearGradient id="g28" gradientUnits="userSpaceOnUse" x1="0" y1="939" x2="0" y2="985"><stop offset="0.0000" stop-color="#2e3130"/><stop offset="0.5000" stop-color="#262928"/><stop offset="1.0000" stop-color="#1f2221"/></linearGradient></defs>
<path d="M1160,939.5 L1200,939.5 L1198,985 L1160,985 Z" fill="url(#g28)" filter="url(#b2)"/>
<path d="M1250.70,784.60 C1249.77,787.97 1246.97,797.70 1245.10,804.80 C1243.23,811.90 1241.00,819.75 1239.50,827.20 C1238.00,834.65 1236.85,842.05 1236.10,849.50 C1235.35,856.95 1235.07,864.43 1235.00,871.90 C1234.93,879.37 1235.33,886.83 1235.70,894.30 C1236.07,901.77 1236.32,908.12 1237.20,916.70 C1238.08,925.28 1240.37,940.95 1241.00,945.80" fill="none" stroke="#fff" stroke-width="2" stroke-dasharray="9,5.5"/>
<rect x="1285.3" y="960.2" width="92.40000000000009" height="4.599999999999909" fill="#fff"/>
<text x="1295" y="833.8" fill="#fff" font-size="25.3" font-family="Liberation Sans, sans-serif"><tspan font-family="Liberation Serif, serif" font-style="italic" font-size="27">&#952;</tspan> = 84°</text>
<text x="1289" y="949" fill="#fff" font-size="25.3" font-family="Liberation Sans, sans-serif">500 µm</text>
</g>
<path d="M1327.2,735 V795" stroke="#fff" stroke-width="2" fill="none"/>
<path d="M1327.2,722.5 L1333.2,738 L1327.2,735 L1321.2,738 Z M1327.2,807.3 L1333.2,791.8 L1327.2,794.8 L1321.2,791.8 Z" fill="#fff"/>
</svg></body></html>
